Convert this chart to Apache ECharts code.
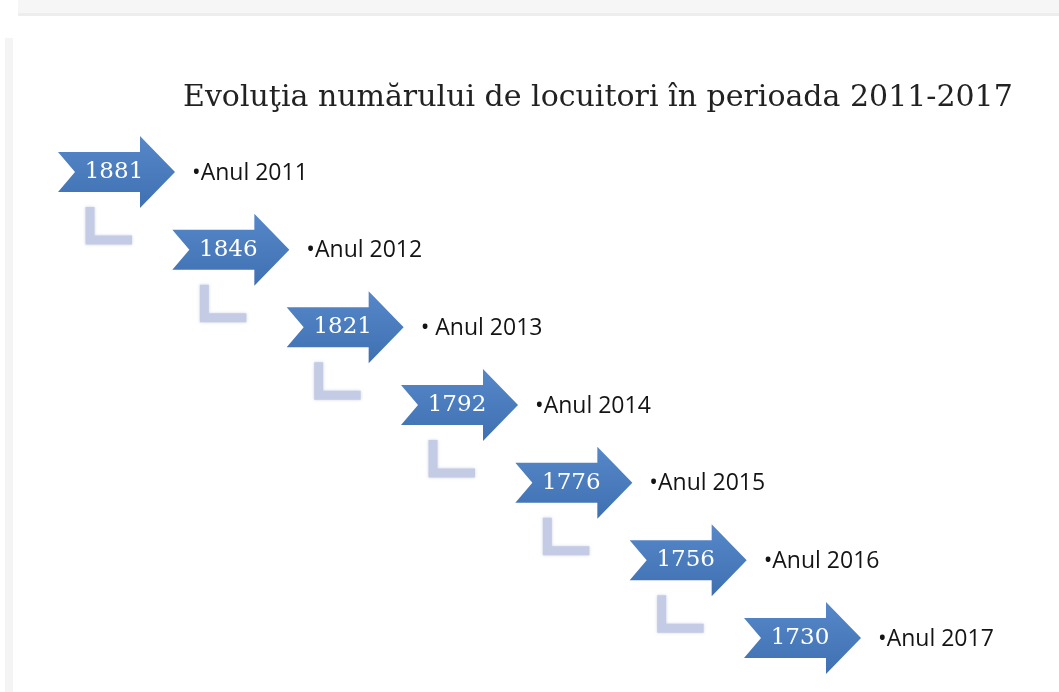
<!DOCTYPE html>
<html>
<head>
<meta charset="utf-8">
<script src="https://cdn.jsdelivr.net/npm/echarts@6/dist/echarts.min.js"></script>
<style>
  html, body { margin: 0; padding: 0; background: #fff; }
  #chart { width: 1059px; height: 692px; }
</style>
</head>
<body>
<div id="chart"></div>
<script>
// anii si numarul de locuitori
var ani = ['2011', '2012', '2013', '2014', '2015', '2016', '2017'];
var etichete = ['•Anul 2011', '•Anul 2012', '• Anul 2013', '•Anul 2014', '•Anul 2015', '•Anul 2016', '•Anul 2017'];
var locuitori = [1881, 1846, 1821, 1792, 1776, 1756, 1730];

var myChart = echarts.init(document.getElementById('chart'));

var date = locuitori.map(function (v, i) { return [i, i, v]; });

function renderItem(params, api) {
    var i = api.value(0);
    var p = api.coord([api.value(0), api.value(1)]);
    var x = p[0], y = p[1];
    var children = [];

    // conectorul in forma de L catre urmatoarea sageata
    if (i < ani.length - 1) {
        children.push({
            type: 'polyline',
            shape: { points: [[x - 26, y + 35], [x - 26, y + 68], [x + 16, y + 68]] },
            style: { stroke: '#c3cce4', lineWidth: 9, fill: null, lineJoin: 'miter', shadowBlur: 3, shadowColor: 'rgba(150,165,205,0.5)' }
        });
    }

    // sageata
    children.push({
        type: 'polygon',
        shape: {
            points: [
                [x - 58, y - 20], [x + 24, y - 20], [x + 24, y - 36], [x + 59, y],
                [x + 24, y + 36], [x + 24, y + 20], [x - 58, y + 20], [x - 41, y]
            ]
        },
        style: {
            fill: new echarts.graphic.LinearGradient(0, 0, 0, 1, [
                { offset: 0, color: '#5688c9' },
                { offset: 1, color: '#3f70b2' }
            ])
        }
    });

    // valoarea
    children.push({
        type: 'text',
        style: {
            x: x - 2, y: y,
            text: String(api.value(2)),
            fill: '#ffffff',
            font: '23px "DejaVu Serif"',
            textAlign: 'center', textVerticalAlign: 'middle'
        }
    });

    // eticheta anului
    children.push({
        type: 'text',
        style: {
            x: x + 76, y: y + 1,
            text: etichete[i],
            fill: '#141414',
            font: '23px "Open Sans"',
            textAlign: 'left', textVerticalAlign: 'middle'
        }
    });

    return { type: 'group', children: children };
}

var option = {
    animation: false,
    backgroundColor: '#ffffff',
    title: {
        text: 'Evoluţia numărului de locuitori în perioada 2011-2017',
        left: 178,
        top: 78,
        textStyle: { fontFamily: 'DejaVu Serif', fontSize: 30, fontWeight: 'normal', color: '#222222' }
    },
    graphic: [
        { type: 'rect', shape: { x: 18, y: 0, width: 1041, height: 15 }, style: { fill: '#f6f6f6' }, silent: true },
        { type: 'rect', shape: { x: 18, y: 13, width: 1041, height: 3 }, style: { fill: '#ededed' }, silent: true },
        { type: 'rect', shape: { x: 5, y: 38, width: 8, height: 654 }, style: { fill: '#f4f4f4' }, silent: true }
    ],
    grid: { left: 116, right: 257, top: 172, bottom: 54 },
    xAxis: {
        type: 'category',
        data: ani,
        boundaryGap: false,
        show: false
    },
    yAxis: {
        type: 'category',
        data: ani,
        inverse: true,
        boundaryGap: false,
        show: false
    },
    series: [{
        type: 'custom',
        renderItem: renderItem,
        data: date,
        encode: { x: 0, y: 1 }
    }]
};
myChart.setOption(option);
</script>
</body>
</html>
